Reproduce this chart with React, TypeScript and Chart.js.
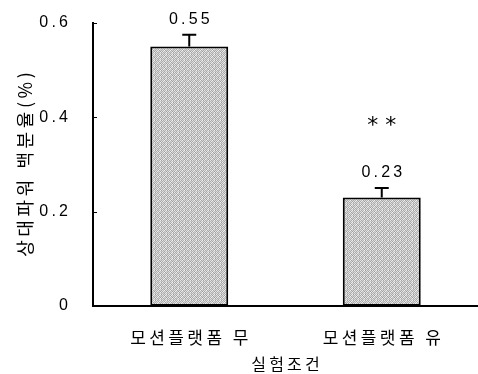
import React, { useEffect, useRef } from "react";
import { Chart, registerables } from "chart.js";

Chart.register(...registerables);

const categories = ["모션플랫폼 무", "모션플랫폼 유"];
const values = [0.55, 0.23];
const errors = [0.025, 0.02];
const valueLabels = ["0.55", "0.23"];
const significance = ["", "**"];
const yTicks = [0, 0.2, 0.4, 0.6];
const yTitle = "상대파워 백분율(%)";
const xTitle = "실험조건";

const spaced = (s: string) => s.split("").join("\u2009");

function makePattern(): CanvasPattern | string {
  const c = document.createElement("canvas");
  c.width = 6;
  c.height = 6;
  const ctx = c.getContext("2d");
  if (!ctx) return "#c4c4c4";
  const shades = [
    "#e8e8e8", "#a8a8a8", "#d8d8d8", "#b8b8b8", "#f0f0f0", "#9c9c9c",
    "#b0b0b0", "#e0e0e0", "#a0a0a0", "#ececec", "#c0c0c0", "#d0d0d0",
    "#dcdcdc", "#b4b4b4", "#f2f2f2", "#a4a4a4", "#d4d4d4", "#ababab",
    "#a6a6a6", "#eeeeee", "#bcbcbc", "#d6d6d6", "#9e9e9e", "#e4e4e4",
    "#e6e6e6", "#aaaaaa", "#cfcfcf", "#b2b2b2", "#f0f0f0", "#a2a2a2",
    "#b6b6b6", "#dadada", "#a8a8a8", "#e2e2e2", "#c6c6c6", "#cccccc",
  ];
  for (let y = 0; y < 6; y++) {
    for (let x = 0; x < 6; x++) {
      ctx.fillStyle = shades[y * 6 + x];
      ctx.fillRect(x, y, 1, 1);
    }
  }
  const p = ctx.createPattern(c, "repeat");
  return p || "#c4c4c4";
}

const annotPlugin = {
  id: "annot",
  afterDatasetsDraw(chart: any) {
    const ctx = chart.ctx;
    const meta = chart.getDatasetMeta(0);
    const ys = chart.scales.y;
    ctx.save();
    ctx.strokeStyle = "#000";
    ctx.lineWidth = 1;
    yTicks.forEach((v) => {
      if (v === 0) return;
      const py = Math.round(ys.getPixelForValue(v)) + 0.5;
      ctx.beginPath();
      ctx.moveTo(chart.chartArea.left, py);
      ctx.lineTo(chart.chartArea.left + 4, py);
      ctx.stroke();
    });
    meta.data.forEach((bar: any, i: number) => {
      const x = bar.x;
      const top = ys.getPixelForValue(values[i] + errors[i]);
      const base = ys.getPixelForValue(values[i]);
      ctx.strokeStyle = "#000";
      ctx.lineWidth = 2;
      ctx.beginPath();
      ctx.moveTo(x, base);
      ctx.lineTo(x, top);
      ctx.moveTo(x - 7, top);
      ctx.lineTo(x + 7, top);
      ctx.stroke();
      ctx.fillStyle = "#000";
      ctx.font = "16px 'Liberation Sans', Arial, sans-serif";
      ctx.textAlign = "center";
      ctx.textBaseline = "bottom";
      ctx.fillText(spaced(valueLabels[i]), x, top - 7);
      if (significance[i]) {
        ctx.font = "22px 'DejaVu Sans', sans-serif";
        ctx.textBaseline = "middle";
        ctx.fillText(significance[i].split("").join(" "), x, top - 62);
      }
    });
    ctx.restore();
  },
};

export default function App() {
  const ref = useRef<HTMLCanvasElement | null>(null);
  useEffect(() => {
    if (!ref.current) return;
    const pattern = makePattern();
    const chart = new Chart(ref.current, {
      type: "bar",
      data: {
        labels: categories.map(spaced),
        datasets: [
          {
            data: values,
            backgroundColor: pattern as any,
            borderColor: "#000",
            borderWidth: 2,
            borderSkipped: false,
            categoryPercentage: 1,
            barPercentage: 0.405,
          },
        ],
      },
      options: {
        responsive: false,
        animation: false,
        devicePixelRatio: 1,
        layout: { padding: { top: 23, right: 0, left: 14, bottom: 0 } },
        plugins: {
          legend: { display: false },
          tooltip: { enabled: false },
        },
        scales: {
          x: {
            grid: { display: false },
            border: { display: true, color: "#000", width: 2 },
            ticks: {
              color: "#000",
              padding: 13,
              font: { family: "'Noto Sans CJK KR', sans-serif", size: 17 },
            },
            title: {
              display: true,
              text: spaced(xTitle),
              color: "#000",
              font: { family: "'Noto Sans CJK KR', sans-serif", size: 16 },
              padding: { top: 1, bottom: 0 },
            },
            afterFit(scale: any) {
              scale.height = 68;
              scale.paddingLeft = 0;
              scale.paddingRight = 0;
            },
          },
          y: {
            min: 0,
            max: 0.6,
            grid: { display: false },
            border: { display: true, color: "#000", width: 2 },
            afterBuildTicks(scale: any) {
              scale.ticks = yTicks.map((v) => ({ value: v }));
            },
            ticks: {
              color: "#000",
              padding: 17,
              font: { family: "'Liberation Sans', Arial, sans-serif", size: 16 },
              callback: (v: any) => (v === 0 ? "0" : spaced(Number(v).toFixed(1))),
            },
            title: {
              display: true,
              text: spaced(yTitle),
              color: "#000",
              font: { family: "'Noto Sans CJK KR', sans-serif", size: 18 },
              padding: { top: 0, bottom: 0 },
            },
            afterFit(scale: any) {
              scale.width = 79;
              scale.paddingTop = 0;
              scale.paddingBottom = 0;
            },
          },
        },
      },
      plugins: [annotPlugin],
    });
    return () => chart.destroy();
  }, []);
  return (
    <div style={{ position: "fixed", left: 0, top: 0, width: 478, height: 374, background: "#fff" }}>
      <canvas ref={ref} width={478} height={374} style={{ display: "block" }} />
    </div>
  );
}
